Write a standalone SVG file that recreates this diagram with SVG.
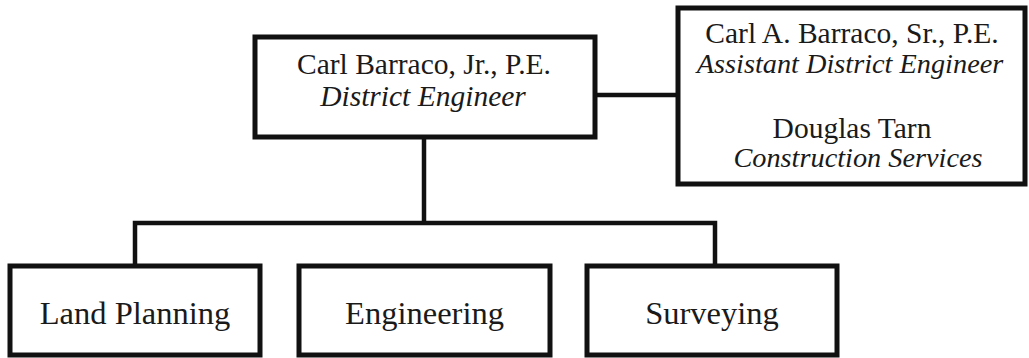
<svg xmlns="http://www.w3.org/2000/svg" width="1029" height="358" viewBox="0 0 1029 358">
<style>
.box{fill:#fff;stroke:#111;stroke-width:5}
.ln{fill:none;stroke:#111;stroke-width:4.5}
text{font-family:"Liberation Serif","Times New Roman",serif;fill:#1a1a1a;text-anchor:middle}
.t{font-size:29.5px}
.i{font-style:italic}
.s{font-size:28.3px}
.b{font-size:32.5px}
</style>
<rect width="1029" height="358" fill="#fff"/>
<g id="connectors">
<path class="ln" d="M595 95H678"/>
<path class="ln" d="M424 137V223"/>
<path class="ln" d="M135 266V223H715V266"/>
</g>
<g id="district">
<rect class="box" x="255" y="37" width="340" height="100"/>
<text class="t" x="424" y="74">Carl Barraco, Jr., P.E.</text>
<text class="t i" x="423" y="106">District Engineer</text>
</g>
<g id="assistant">
<rect class="box" x="678" y="8" width="347" height="176"/>
<text class="t" x="852" y="43">Carl A. Barraco, Sr., P.E.</text>
<text class="t i s" x="850" y="73">Assistant District Engineer</text>
<text class="t" x="852" y="138">Douglas Tarn</text>
<text class="t i s" x="858" y="167">Construction Services</text>
</g>
<g id="land">
<rect class="box" x="10" y="266" width="250" height="89"/>
<text class="b" x="135" y="324">Land Planning</text>
</g>
<g id="engineering">
<rect class="box" x="299" y="266" width="251" height="89"/>
<text class="b" x="424.5" y="324">Engineering</text>
</g>
<g id="surveying">
<rect class="box" x="587" y="266" width="250" height="89"/>
<text class="b" x="712" y="324">Surveying</text>
</g>
</svg>
